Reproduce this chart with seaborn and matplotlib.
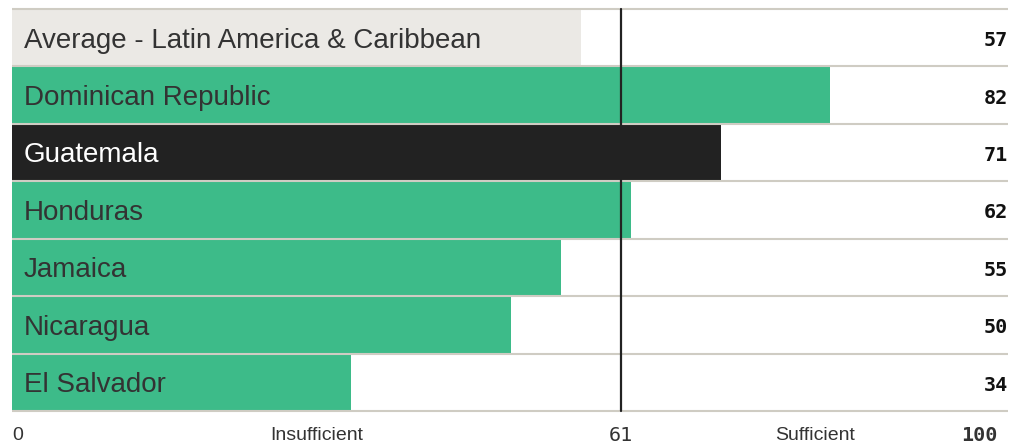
import matplotlib
matplotlib.use("Agg")
import matplotlib.pyplot as plt
import seaborn as sns
import pandas as pd

# data
countries = ["Average - Latin America & Caribbean", "Dominican Republic", "Guatemala",
             "Honduras", "Jamaica", "Nicaragua", "El Salvador"]
scores = [57, 82, 71, 62, 55, 50, 34]
bar_colors = ["#ebe9e5", "#3dbb89", "#222222", "#3dbb89", "#3dbb89", "#3dbb89", "#3dbb89"]
text_colors = ["#333333", "#333333", "#ffffff", "#333333", "#333333", "#333333", "#333333"]
threshold = 61
axis_labels = ["0", "Insufficient", "61", "Sufficient", "100"]
axis_pos = [0, 30.5, 61, 80.5, 98.7]

sns.set_style("white")
plt.rcParams["font.family"] = ["Liberation Sans", "DejaVu Sans"]

df = pd.DataFrame({"country": countries, "score": scores})

fig = plt.figure(figsize=(10.23, 4.45), dpi=100)
ax = fig.add_axes([12 / 1023, 1 - 411 / 445, 998 / 1023, 402 / 445])

sns.barplot(data=df, x="score", y="country", hue="country", palette=bar_colors,
            width=0.97, orient="h", legend=False, ax=ax, saturation=1, linewidth=0)

ax.set_xlim(0, 100)
ax.set_ylim(len(countries) - 0.5, -0.5)
ax.axis("off")

# row separators
for k in range(len(countries) + 1):
    ax.plot([0, 99.8], [k - 0.5, k - 0.5], color="#cfccc3", lw=1.5,
            solid_capstyle="butt", zorder=3, clip_on=False)

ax.plot([threshold, threshold], [-0.5, len(countries) - 0.5], color="#222222",
        lw=1.6, zorder=4, clip_on=False)

for i, (name, val) in enumerate(zip(countries, scores)):
    ax.text(1.2, i + 0.05, name, ha="left", va="center", fontsize=20,
            color=text_colors[i], zorder=5)
    ax.text(99.8, i + 0.05, str(val), ha="right", va="center", fontsize=14.5,
            family="DejaVu Sans Mono", fontweight="bold", color="#111111", zorder=5)

# bottom scale labels
ybot = len(countries) - 0.5 + 0.42
for lab, pos in zip(axis_labels, axis_pos):
    if lab == "0":
        ax.text(pos, ybot, lab, ha="left", va="center", fontsize=14, color="#333333", clip_on=False)
    elif lab == "100":
        ax.text(pos, ybot, lab, ha="right", va="center", fontsize=14.5, color="#333333",
                family="DejaVu Sans Mono", fontweight="bold", clip_on=False)
    elif lab == "61":
        ax.text(pos, ybot, lab, ha="center", va="center", fontsize=14.5, color="#333333",
                family="DejaVu Sans Mono", clip_on=False)
    else:
        ax.text(pos, ybot, lab, ha="center", va="center", fontsize=14, color="#333333", clip_on=False)

fig.savefig("out.png", dpi=100)
